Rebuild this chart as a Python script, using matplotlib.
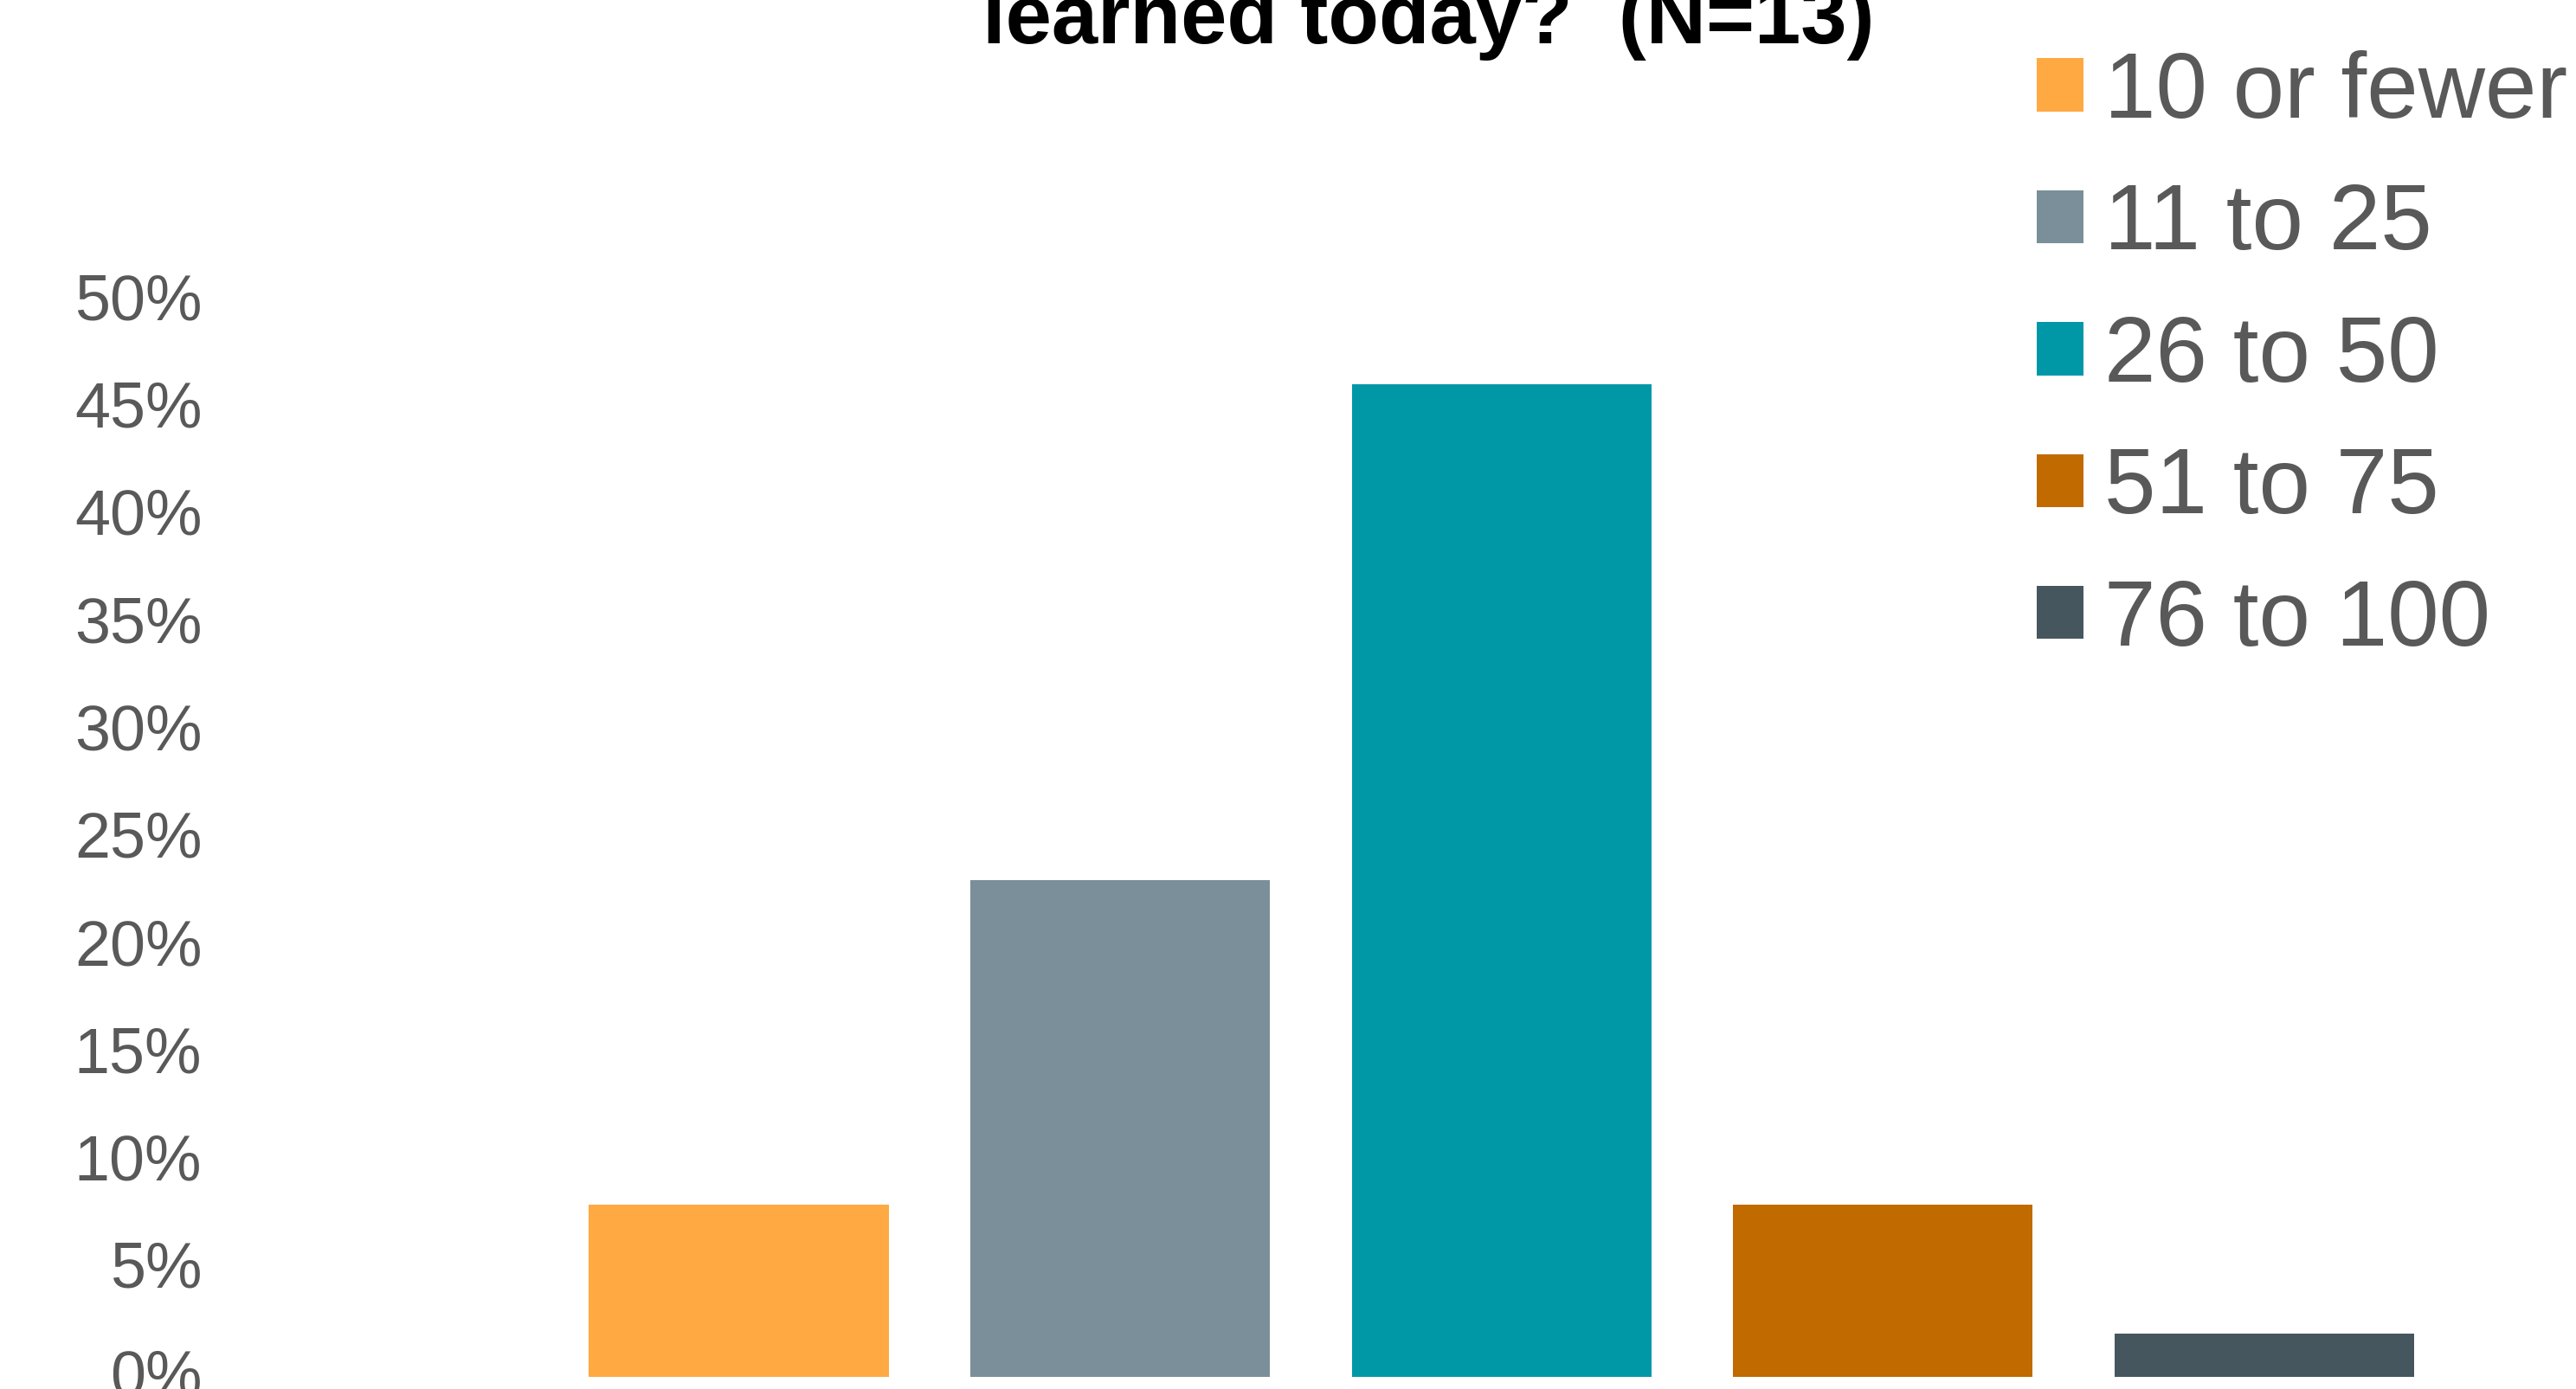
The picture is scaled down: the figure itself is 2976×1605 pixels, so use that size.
import matplotlib
matplotlib.use("Agg")
import matplotlib.pyplot as plt
from matplotlib.patches import Patch
from matplotlib.ticker import PercentFormatter
from matplotlib.transforms import ScaledTranslation

# Data
categories = ["10 or fewer", "11 to 25", "26 to 50", "51 to 75", "76 to 100"]
shares = [0.08, 0.2308, 0.4615, 0.08, 0.02]
colors = ["#FFA942", "#7A8F99", "#0098A7", "#C16A00", "#46565F"]
yticks = [0.0, 0.05, 0.10, 0.15, 0.20, 0.25, 0.30, 0.35, 0.40, 0.45, 0.50]
title_text = "learned today?  (N=13)"

TEXT_GREY = "#595959"
plt.rcParams["font.family"] = ["Liberation Sans", "DejaVu Sans"]

W, H = 2976, 1605
fig = plt.figure(figsize=(W / 100, H / 100), dpi=100)

# axes placed in pixel terms of the reference picture
left, right = 250, 2836
bottom, top = 1590.7, 348
ax = fig.add_axes([left / W, 1 - bottom / H, (right - left) / W, (bottom - top) / H])

xpos = list(range(len(categories)))
ax.bar(xpos, shares, width=0.786, color=colors, label=categories)

ax.set_ylim(0, 0.5)
ax.set_xlim(-1.370, 4.5)
ax.set_yticks(yticks)
ax.yaxis.set_major_formatter(PercentFormatter(1.0, decimals=0))
ax.tick_params(axis="y", length=0, pad=12, labelsize=53, labelcolor=TEXT_GREY)
ax.set_xticks([])
for side in ["top", "right", "bottom", "left"]:
    ax.spines[side].set_visible(False)

# nudge tick labels up a little, as in the reference
shift = ScaledTranslation(0, 4 / 72, fig.dpi_scale_trans)
for lbl in ax.get_yticklabels():
    lbl.set_transform(lbl.get_transform() + shift)

# title (only its second line is visible in the crop)
fig.text(1650 / W, 1 - 50 / H, title_text, ha="center", va="baseline",
         fontsize=69, fontweight="bold", color="black")

handles = [Patch(facecolor=c, edgecolor="none") for c in colors]
leg = fig.legend(handles, categories, loc="upper left",
                 bbox_to_anchor=(2353 / W, 1 - 58 / H),
                 frameon=False, fontsize=77, borderpad=0, borderaxespad=0,
                 handlelength=0.505, handleheight=0.505, handletextpad=0.22,
                 labelspacing=0.49)
for t in leg.get_texts():
    t.set_color(TEXT_GREY)

fig.savefig("out.png", dpi=100, facecolor="white")
